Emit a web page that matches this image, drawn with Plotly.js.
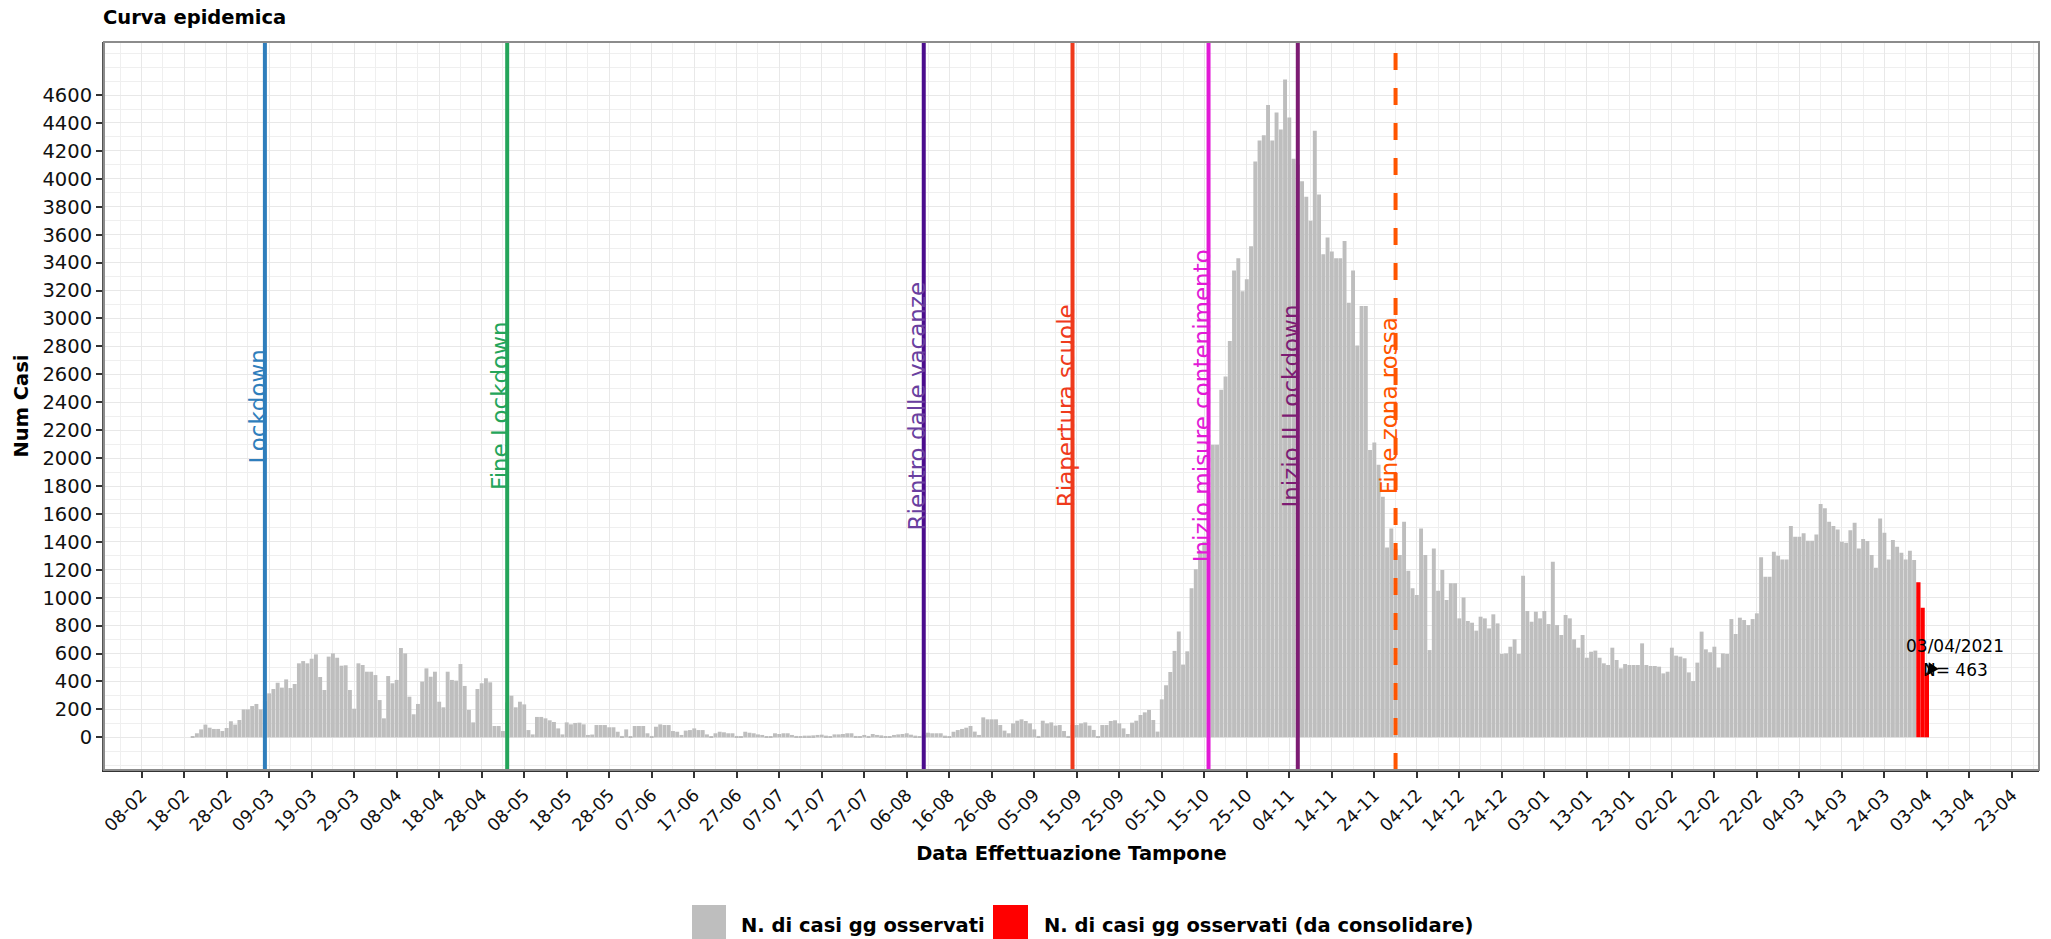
<!DOCTYPE html>
<html>
<head>
<meta charset="utf-8">
<script src="https://cdn.plot.ly/plotly-3.0.1.min.js"></script>
<style>
  html, body { margin: 0; padding: 0; background: #ffffff; }
  #chart { width: 2051px; height: 939px; }
</style>
</head>
<body>
<div id="chart"></div>
<script>
// ---------------- DATA ----------------
const chartTitle = 'Curva epidemica';
const xTitle = 'Data Effettuazione Tampone';
const yTitle = 'Num Casi';
const seriesObserved = 'N. di casi gg osservati';
const seriesPending = 'N. di casi gg osservati (da consolidare)';

// daily observed cases, one array per month
const feb2020 = [5, 29, 57, 91, 69, 60, 60, 45, 67, 115];            // from 20 Feb
const mar2020 = [91, 124, 200, 200, 224, 239, 200, 260, 315, 346, 391, 356, 415, 353, 382, 530, 546, 530, 563, 594, 432, 339, 578, 601, 570, 513, 516, 339, 205, 530, 518];
const apr2020 = [470, 470, 446, 267, 136, 439, 387, 411, 640, 601, 291, 165, 239, 399, 494, 434, 470, 255, 215, 470, 411, 406, 525, 368, 196, 107, 346, 387, 423, 394];
const may2020 = [81, 81, 45, 250, 298, 215, 255, 236, 52, 21, 146, 146, 136, 122, 110, 64, 21, 107, 93, 103, 105, 93, 17, 20, 88, 88, 88, 72, 72, 40, 10];
const jun2020 = [57, 5, 81, 81, 81, 29, 10, 76, 93, 88, 88, 45, 40, 17, 48, 52, 64, 52, 52, 21, 5, 29, 40, 36, 29, 29, 10, 5, 40, 33];
const jul2020 = [29, 21, 17, 5, 5, 29, 24, 29, 29, 17, 10, 5, 12, 12, 14, 17, 19, 12, 5, 21, 21, 24, 29, 29, 10, 5, 17, 10, 24, 17, 14];
const aug2020 = [5, 5, 17, 21, 24, 29, 19, 12, 5, 15, 33, 29, 29, 29, 12, 5, 40, 52, 60, 69, 81, 41, 17, 143, 129, 129, 129, 88, 48, 29, 100];
const sep2020 = [119, 129, 117, 100, 57, 10, 119, 100, 107, 84, 88, 45, 10, 90, 88, 100, 107, 84, 53, 5, 88, 88, 117, 122, 100, 64, 24, 105, 119, 160];
const oct2020 = [179, 196, 124, 41, 272, 373, 468, 619, 758, 521, 616, 1068, 1204, 1337, 1400, 1750, 2095, 2095, 2490, 2585, 2838, 3343, 3432, 3195, 3280, 3517, 4124, 4275, 4313, 4528, 4275];
const nov2020 = [4475, 4354, 4712, 4440, 4143, 4100, 3982, 3871, 3700, 4345, 3887, 3460, 3580, 3479, 3432, 3432, 3555, 3113, 3343, 2806, 3090, 3090, 2057, 2111, 1953, 1723, 1360, 1496, 1350, 1305];
const dec2020 = [1544, 1193, 1067, 1019, 1496, 1305, 625, 1353, 1050, 1198, 983, 1103, 1103, 852, 1002, 833, 821, 764, 864, 852, 780, 881, 816, 597, 601, 649, 702, 597, 1158, 905, 828];
const jan2021 = [900, 852, 905, 811, 1258, 804, 733, 876, 852, 702, 642, 733, 570, 613, 621, 570, 530, 518, 642, 554, 494, 525, 518, 518, 518, 673, 518, 511, 511, 506, 458];
const feb2021 = [470, 642, 585, 578, 566, 465, 403, 535, 757, 630, 609, 649, 499, 601, 597, 847, 740, 857, 840, 804, 847, 888, 1289, 1150, 1150, 1329, 1301, 1274];
const mar2021 = [1274, 1513, 1437, 1437, 1461, 1408, 1408, 1453, 1671, 1640, 1544, 1513, 1489, 1401, 1394, 1484, 1537, 1353, 1420, 1406, 1305, 1215, 1568, 1465, 1274, 1413, 1365, 1322, 1274, 1337, 1270];
// last days, still to be consolidated (red)
const apr2021Pending = [1110, 928, 463];                              // from 1 Apr

const observedMonths = [
  ['2020-02', 20, feb2020], ['2020-03', 1, mar2020], ['2020-04', 1, apr2020],
  ['2020-05', 1, may2020], ['2020-06', 1, jun2020], ['2020-07', 1, jul2020],
  ['2020-08', 1, aug2020], ['2020-09', 1, sep2020], ['2020-10', 1, oct2020],
  ['2020-11', 1, nov2020], ['2020-12', 1, dec2020], ['2021-01', 1, jan2021],
  ['2021-02', 1, feb2021], ['2021-03', 1, mar2021]
];
const pendingMonths = [['2021-04', 1, apr2021Pending]];

// event lines
const eventDates  = ['2020-03-08', '2020-05-04', '2020-08-10', '2020-09-14', '2020-10-16', '2020-11-06', '2020-11-29'];
const eventLabels = ['Lockdown', 'Fine Lockdown', 'Rientro dalle vacanze', 'Riapertura scuole', 'Inizio misure contenimento', 'Inizio II Lockdown', 'Fine zona rossa'];
const eventColors = ['#2f7ebc', '#24a55a', '#4b0d8d', '#ef3a1c', '#e21ad6', '#7d1c73', '#ff5500'];
const eventTextColors = ['#2f7ebc', '#24a55a', '#6a3fa0', '#ef3a1c', '#e21ad6', '#7d1c73', '#ff5500'];
const eventDash   = ['solid', 'solid', 'solid', 'solid', 'solid', 'solid', 'dash'];
const eventLabelY = 2375;

// last-day note
const noteDate = '2021-04-03';
const noteValue = 463;
const noteLine1 = '03/04/2021';
const noteLine2 = 'N= 463';

// axis ticks
const xTickVals = ['2020-02-08','2020-02-18','2020-02-28','2020-03-09','2020-03-19','2020-03-29','2020-04-08','2020-04-18','2020-04-28','2020-05-08','2020-05-18','2020-05-28','2020-06-07','2020-06-17','2020-06-27','2020-07-07','2020-07-17','2020-07-27','2020-08-06','2020-08-16','2020-08-26','2020-09-05','2020-09-15','2020-09-25','2020-10-05','2020-10-15','2020-10-25','2020-11-04','2020-11-14','2020-11-24','2020-12-04','2020-12-14','2020-12-24','2021-01-03','2021-01-13','2021-01-23','2021-02-02','2021-02-12','2021-02-22','2021-03-04','2021-03-14','2021-03-24','2021-04-03','2021-04-13','2021-04-23'];
const xTickText = ['08-02','18-02','28-02','09-03','19-03','29-03','08-04','18-04','28-04','08-05','18-05','28-05','07-06','17-06','27-06','07-07','17-07','27-07','06-08','16-08','26-08','05-09','15-09','25-09','05-10','15-10','25-10','04-11','14-11','24-11','04-12','14-12','24-12','03-01','13-01','23-01','02-02','12-02','22-02','04-03','14-03','24-03','03-04','13-04','23-04'];
const yTickVals = [0, 200, 400, 600, 800, 1000, 1200, 1400, 1600, 1800, 2000, 2200, 2400, 2600, 2800, 3000, 3200, 3400, 3600, 3800, 4000, 4200, 4400, 4600];

// ---------------- BUILD ----------------
function pad(n) { return (n < 10 ? '0' : '') + n; }
function expand(months) {
  const xs = [], ys = [];
  months.forEach(([ym, d0, vals]) => {
    vals.forEach((v, i) => { xs.push(ym + '-' + pad(d0 + i)); ys.push(v); });
  });
  return { xs, ys };
}
const obs = expand(observedMonths);
const pen = expand(pendingMonths);

const FONT = 'DejaVu Sans';
const GREY = '#bebebe';
const RED = '#ff0000';
const DAY = 86400000;

const traces = [
  { type: 'bar', name: seriesObserved, x: obs.xs, y: obs.ys,
    marker: { color: GREY, line: { width: 0 } }, showlegend: false, hoverinfo: 'x+y' },
  { type: 'bar', name: seriesPending, x: pen.xs, y: pen.ys, width: DAY,
    marker: { color: RED, line: { width: 0 } }, showlegend: false, hoverinfo: 'x+y' }
];

const shapes = [];
const annotations = [];

eventDates.forEach((d, i) => {
  shapes.push({ type: 'line', xref: 'x', yref: 'paper', x0: d, x1: d, y0: 0, y1: 1,
    line: { color: eventColors[i], width: 4, dash: eventDash[i] === 'dash' ? '17px,18px' : 'solid' }, layer: 'above' });
  annotations.push({ xref: 'x', yref: 'y', x: d, y: eventLabelY, text: eventLabels[i],
    textangle: -90, showarrow: false, xanchor: 'right', yanchor: 'middle', xshift: 8,
    font: { family: FONT, size: 23, color: eventTextColors[i] } });
});

// plot frame
shapes.push({ type: 'rect', xref: 'paper', yref: 'paper', x0: 0, x1: 1, y0: 0, y1: 1,
  line: { color: '#8c8c8c', width: 2 }, fillcolor: 'rgba(0,0,0,0)', layer: 'above' });

// note for the last day
annotations.push({ xref: 'x', yref: 'y', x: '2021-04-09 16:00', y: 653, text: noteLine1,
  showarrow: false, xanchor: 'center', yanchor: 'middle', font: { family: FONT, size: 17, color: '#000' } });
annotations.push({ xref: 'x', yref: 'y', x: '2021-04-09 16:00', y: 480, text: noteLine2,
  showarrow: false, xanchor: 'center', yanchor: 'middle', font: { family: FONT, size: 17, color: '#000' } });
annotations.push({ xref: 'x', yref: 'y', x: noteDate, y: noteValue - 20, text: '',
  showarrow: true, ax: 7, ay: -10, arrowhead: 2, arrowsize: 1.6, arrowwidth: 1.5,
  arrowcolor: '#000', standoff: 0 });

// legend (drawn below the plot)
const W = 2051, H = 939, ML = 104, MR = 12, MT = 42, MB = 169;
const PW = W - ML - MR, PH = H - MT - MB;
const px = v => (v - ML) / PW;
const py = v => (H - MB - v) / PH;
const legendItems = [
  { color: GREY, label: seriesObserved, k0: 692, k1: 726, t: 739 },
  { color: RED, label: seriesPending, k0: 993, k1: 1028, t: 1042 }
];
legendItems.forEach(it => {
  shapes.push({ type: 'rect', xref: 'paper', yref: 'paper', x0: px(it.k0), x1: px(it.k1),
    y0: py(940), y1: py(905), fillcolor: it.color, line: { width: 0 } });
  annotations.push({ xref: 'paper', yref: 'paper', x: px(it.t), y: py(926), text: it.label,
    showarrow: false, xanchor: 'left', yanchor: 'middle',
    font: { family: FONT, size: 19.5, color: '#000', weight: 'bold' } });
});

const layout = {
  width: W, height: H,
  margin: { l: ML, r: MR, t: MT, b: MB, pad: 0 },
  paper_bgcolor: '#ffffff', plot_bgcolor: '#ffffff',
  barmode: 'overlay', bargap: 0.08,
  showlegend: false,
  font: { family: FONT, color: '#000' },
  title: { text: chartTitle, xref: 'container', yref: 'container', x: 103 / W, xanchor: 'left',
    y: 1 - 17.5 / H, yanchor: 'middle', font: { family: FONT, size: 19.5, weight: 'bold', color: '#000' } },
  xaxis: {
    type: 'date', range: ['2020-01-30 03:30', '2021-04-29 09:00'],
    tickmode: 'array', tickvals: xTickVals, ticktext: xTickText, tickangle: -45,
    tickfont: { family: FONT, size: 17.5, color: '#111' },
    ticks: 'outside', ticklen: 6, tickwidth: 1.5, tickcolor: '#333',
    showgrid: true, gridcolor: '#e8e8e8', gridwidth: 1.4,
    minor: { dtick: 5 * DAY, tick0: '2020-02-08', showgrid: true, gridcolor: '#efefef', gridwidth: 0.9, ticks: '' },
    showline: true, linecolor: '#333', linewidth: 2, mirror: false, zeroline: false,
    fixedrange: true,
    title: { text: xTitle, standoff: 12, font: { family: FONT, size: 19.5, weight: 'bold', color: '#000' } }
  },
  yaxis: {
    range: [-234, 4980],
    tickmode: 'array', tickvals: yTickVals,
    tickfont: { family: FONT, size: 19.5, color: '#111' },
    ticks: 'outside', ticklen: 6, tickwidth: 1.5, tickcolor: '#333',
    showgrid: true, gridcolor: '#e8e8e8', gridwidth: 1.4,
    minor: { dtick: 100, tick0: 0, showgrid: true, gridcolor: '#efefef', gridwidth: 0.9, ticks: '' },
    showline: true, linecolor: '#555', linewidth: 2, mirror: false, zeroline: false,
    fixedrange: true,
    title: { text: yTitle, standoff: 9, font: { family: FONT, size: 19.5, weight: 'bold', color: '#000' } }
  },
  shapes: shapes,
  annotations: annotations
};

Plotly.newPlot('chart', traces, layout, { displayModeBar: false, responsive: false });
</script>
</body>
</html>
